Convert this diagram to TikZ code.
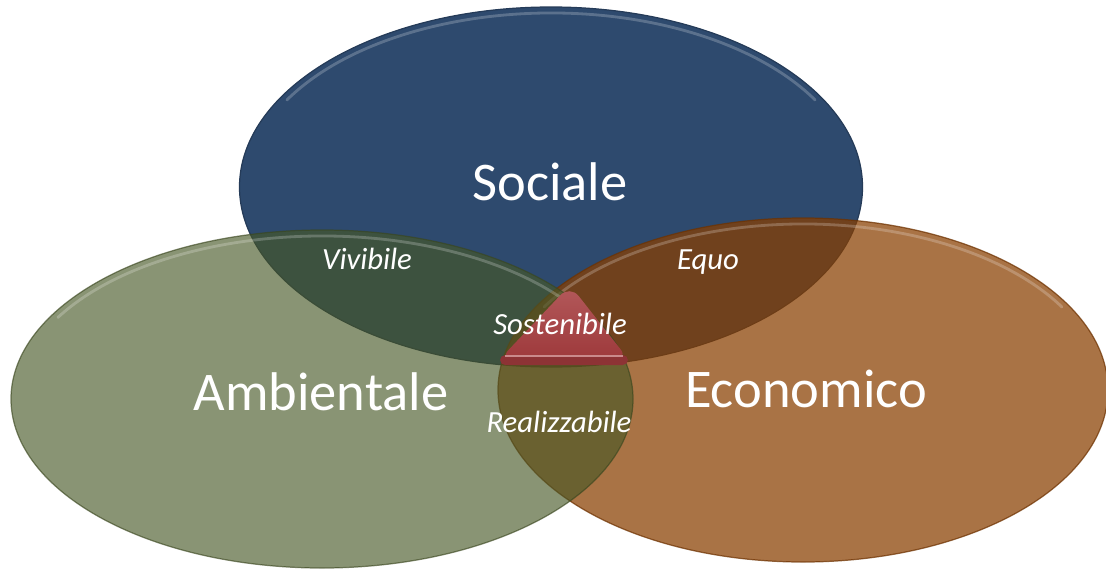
\documentclass[tikz,border=0pt]{standalone}
\usepackage{fontspec}
\setmainfont{Carlito}
\definecolor{socblue}{RGB}{46, 74, 110}
\definecolor{ambgreen}{RGB}{71, 87, 37}
\definecolor{ecoorange}{RGB}{137, 63, 0}
\definecolor{sostred}{RGB}{166, 60, 62}
\usetikzlibrary{shapes.geometric, positioning, calc}
\tikzset{
  area/.style={ellipse, inner sep=0pt, draw=#1!80!black, line width=0.7pt, fill=#1},
  setlabel/.style={anchor=base, text=white, font=\fontsize{31}{37}\selectfont},
  zonelabel/.style={anchor=base, text=white, font=\fontsize{17.5}{21}\selectfont\itshape},
  rim/.style={white, opacity=0.22, line width=1.6pt, line cap=round}
}

\begin{document}
\begin{tikzpicture}
  \useasboundingbox (0,0) rectangle (22.12,11.42);

  % Sociale
  \node[area=socblue, minimum width=12.46cm, minimum height=7.2cm] (soc) at (11.02,7.68) {};
  \draw[rim] (soc.center) ++(150:6.1 and 3.48) arc[start angle=150, end angle=30, x radius=6.1, y radius=3.48];

  % Economico (see-through)
  \node[area=ecoorange, opacity=0.73, minimum width=12.2cm, minimum height=6.88cm] (eco) at (16.06,3.62) {};
  \draw[rim] (eco.center) ++(150:5.98 and 3.32) arc[start angle=150, end angle=30, x radius=5.98, y radius=3.32];

  % Ambientale (see-through)
  \node[area=ambgreen, opacity=0.64, minimum width=12.44cm, minimum height=6.76cm] (amb) at (6.44,3.44) {};
  \draw[rim] (amb.center) ++(150:6.1 and 3.26) arc[start angle=150, end angle=30, x radius=6.1, y radius=3.26];

  % Sostenibile core
  \shade[top color=sostred!85!white, bottom color=sostred!95!black, rounded corners=8pt] (9.98,4.22) -- (11.4,5.72) -- (12.58,4.22) -- cycle;
  \fill[sostred!85!black, rounded corners=3pt] (10.0,4.12) rectangle (12.56,4.32);
  \draw[sostred!60!white, line width=0.8pt] (10.1,4.3) -- (12.46,4.3);

  % Labels
  \node[setlabel] (socl) at (11.0,7.42) {Sociale};
  \node[setlabel] (ambl) at (6.42,3.22) {Ambientale};
  \node[setlabel] (ecol) at (16.12,3.28) {Economico};
  \node[zonelabel] (viv) at (7.34,6.04) {Vivibile};
  \node[zonelabel] (equ) at (14.16,6.04) {Equo};
  \node[zonelabel] (sos) at (11.2,4.74) {Sostenibile};
  \node[zonelabel] (rea) at (11.18,2.78) {Realizzabile};
\end{tikzpicture}
\end{document}
